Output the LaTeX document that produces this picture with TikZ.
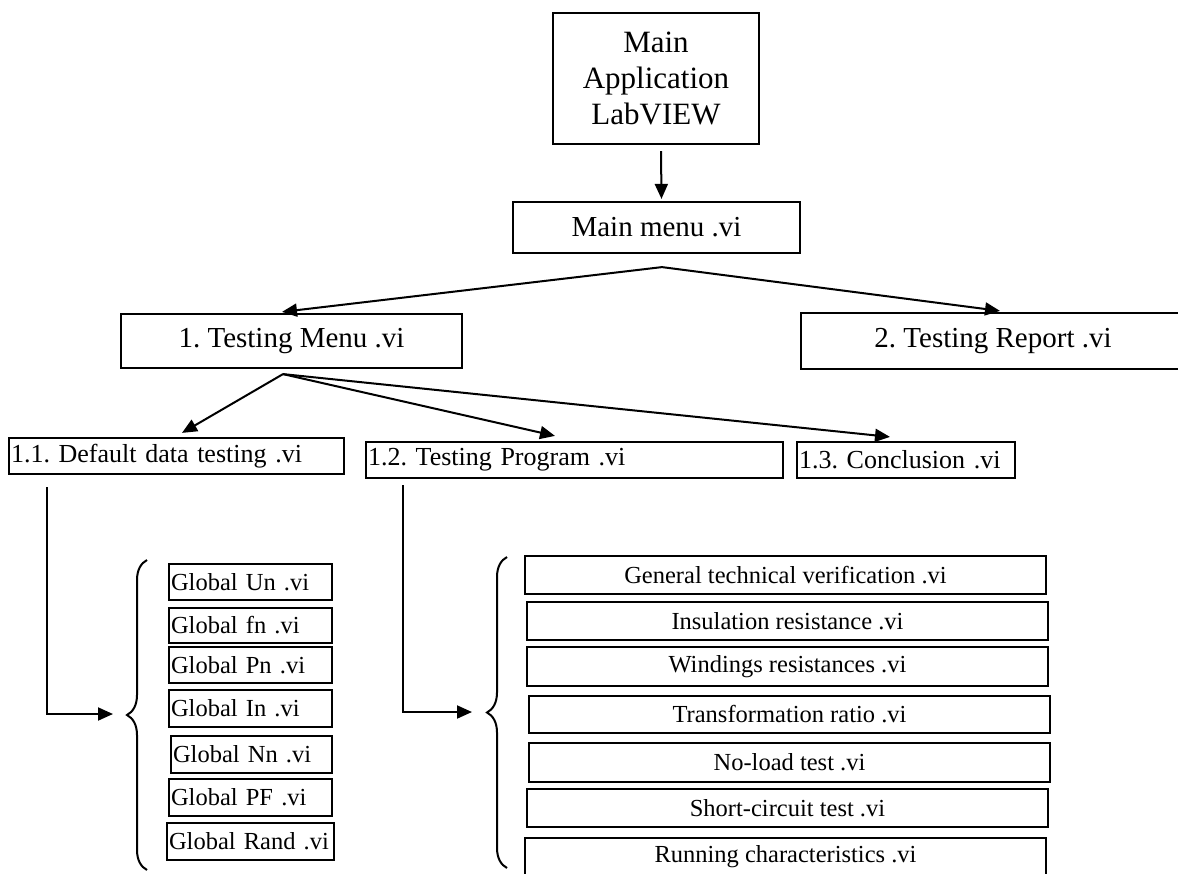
\documentclass[tikz,border=0pt]{standalone}
\usepackage{fontspec}
\setmainfont{Liberation Serif}
\frenchspacing
\usetikzlibrary{arrows.meta,decorations.pathreplacing}

\tikzset{
	box/.style={draw, line width=2.2pt, inner sep=2pt},
	headbox/.style={box, font=\fontsize{29}{34}\selectfont},
	subbox/.style={box, font=\fontsize{26}{30}\selectfont, align=left, minimum height=36pt},
	globbox/.style={box, font=\fontsize{24.5}{28}\selectfont, align=left},
	progbox/.style={box, font=\fontsize{24.5}{28}\selectfont, minimum width=521pt},
	arr/.style={-{Triangle[length=15pt,width=13pt]}, line width=2pt},
	curly/.style={decorate, decoration={brace, amplitude=20pt}, line width=2pt}
}

\begin{document}
\begin{tikzpicture}[x=1pt, y=-1pt]
		\useasboundingbox (0,0) rectangle (1178,873);
		\clip (0,0) rectangle (1178,873);

		% top levels
		\node[box, font=\fontsize{31}{36}\selectfont, align=center, minimum width=206pt, minimum height=131pt] (app) at (656,78.5) {Main\\Application\\LabVIEW};
		\node[headbox, minimum width=287pt, minimum height=51pt] (menu) at (656.5,227.5) {Main menu .vi};
		\node[headbox, minimum width=341pt, minimum height=54pt] (tmenu) at (291.5,341) {1. Testing Menu .vi};
		\node[headbox, minimum width=384pt, minimum height=56pt] (treport) at (993,341) {2. Testing Report .vi};

		% testing menu entries
		\node[subbox, text width=331pt] (dflt) at (176.5,456) {1.1. Default data testing .vi};
		\node[subbox, text width=413pt] (prog) at (574.5,460) {1.2. Testing Program .vi};
		\node[subbox, text width=214pt] (concl) at (906,460) {1.3. Conclusion .vi};

		% global variables
		\node[globbox, text width=159pt, minimum height=36pt] (gun) at (250.5,582) {Global Un .vi};
		\node[globbox, text width=159pt, minimum height=35pt] (gfn) at (250.5,625.5) {Global fn .vi};
		\node[globbox, text width=159pt, minimum height=36pt] (gpn) at (250.5,665) {Global Pn .vi};
		\node[globbox, text width=159pt, minimum height=37pt] (gin) at (250.5,708.5) {Global In .vi};
		\node[globbox, text width=157pt, minimum height=37pt] (gnn) at (251.5,754.5) {Global Nn .vi};
		\node[globbox, text width=159pt, minimum height=37pt] (gpf) at (250.5,797.5) {Global PF .vi};
		\node[globbox, text width=163pt, minimum height=37pt] (grand) at (250.5,841.5) {Global Rand .vi};

		% test programs
		\node[progbox, minimum height=38pt] (gen) at (785.5,575) {General technical verification .vi};
		\node[progbox, minimum height=38pt] (ins) at (787.5,621) {Insulation resistance .vi};
		\node[progbox, minimum height=39pt] (wind) at (787.5,666.5) {Windings resistances .vi};
		\node[progbox, minimum height=37pt] (trans) at (789.5,714.5) {Transformation ratio .vi};
		\node[progbox, minimum height=39pt] (noload) at (789.5,762.5) {No-load test .vi};
		\node[progbox, minimum height=38pt] (short) at (787.5,808) {Short-circuit test .vi};
		\node[progbox, minimum height=38pt] (run) at (785.5,857) {Running characteristics .vi};

		% braces
		\coordinate (gtip) at (127,714);
		\coordinate (ptip) at (487,712);
		\draw[curly] (147,870) -- (147,560);
		\draw[curly] (507,868) -- (507,557);

		% connectors
		\draw[arr] ([xshift=5pt,yshift=-6pt]app.south) -- ([xshift=5pt,yshift=2pt]menu.north);
		\coordinate (mbot) at ([xshift=5.5pt,yshift=-13pt]menu.south);
		\draw[arr] (mbot) -- ([xshift=-9.5pt,yshift=1pt]tmenu.north);
		\draw[arr] (mbot) -- ([xshift=7pt,yshift=1pt]treport.north);
		\coordinate (tbot) at ([xshift=-8.5pt,yshift=-5pt]tmenu.south);
		\draw[arr] (tbot) -- ([xshift=5.5pt,yshift=4pt]dflt.north);
		\draw[arr] (tbot) -- ([xshift=-19.5pt,yshift=5pt]prog.north);
		\draw[arr] (tbot) -- ([xshift=-16pt,yshift=4pt]concl.north);
		\draw[arr] ([xshift=39pt,yshift=-12pt]dflt.south west) |- ([xshift=-14pt]gtip);
		\draw[arr] ([xshift=38pt,yshift=-6pt]prog.south west) |- ([xshift=-15pt]ptip);
\end{tikzpicture}
\end{document}
